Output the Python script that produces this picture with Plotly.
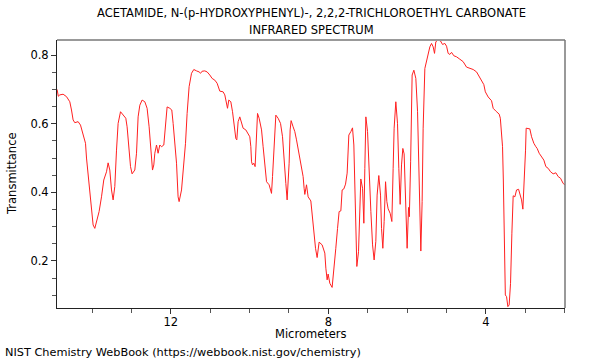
import plotly.graph_objects as go

micrometers = [
    14.888, 14.857, 14.819, 14.735, 14.649, 14.565, 14.522, 14.481, 14.438, 14.354,
    14.293, 14.227, 14.166, 14.141, 14.100, 14.057, 14.014, 13.973, 13.930, 13.872,
    13.821, 13.760, 13.702, 13.633, 13.592, 13.549, 13.506, 13.465, 13.422, 13.379,
    13.338, 13.277, 13.211, 13.143, 13.110, 13.059, 13.023, 12.983, 12.914, 12.871,
    12.830, 12.787, 12.729, 12.660, 12.602, 12.551, 12.516, 12.490, 12.465, 12.432,
    12.406, 12.363, 12.323, 12.279, 12.236, 12.178, 12.127, 12.094, 12.025, 11.975,
    11.941, 11.898, 11.855, 11.815, 11.789, 11.728, 11.688, 11.644, 11.627, 11.586,
    11.535, 11.474, 11.416, 11.347, 11.281, 11.246, 11.205, 11.137, 11.078, 11.010,
    10.951, 10.883, 10.824, 10.756, 10.672, 10.629, 10.586, 10.560, 10.527, 10.476,
    10.433, 10.392, 10.349, 10.324, 10.291, 10.248, 10.204, 10.164, 10.095, 10.037,
    9.994, 9.968, 9.950, 9.925, 9.892, 9.859, 9.823, 9.798, 9.757, 9.696,
    9.656, 9.613, 9.569, 9.503, 9.443, 9.417, 9.384, 9.370, 9.333, 9.275,
    9.214, 9.163, 9.105, 9.079, 9.046, 9.021, 8.995, 8.970, 8.945, 8.894,
    8.851, 8.808, 8.767, 8.742, 8.681, 8.640, 8.615, 8.597, 8.554, 8.513,
    8.444, 8.386, 8.325, 8.284, 8.234, 8.157, 8.089, 8.063, 8.030, 8.005,
    7.962, 7.904, 7.853, 7.810, 7.766, 7.726, 7.682, 7.649, 7.606, 7.563,
    7.522, 7.479, 7.428, 7.386, 7.352, 7.327, 7.302, 7.276, 7.233, 7.200,
    7.175, 7.131, 7.098, 7.073, 7.047, 7.004, 6.971, 6.920, 6.877, 6.837,
    6.794, 6.761, 6.718, 6.674, 6.649, 6.616, 6.583, 6.547, 6.514, 6.481,
    6.430, 6.387, 6.354, 6.329, 6.286, 6.243, 6.210, 6.176, 6.141, 6.108,
    6.075, 6.039, 5.999, 5.963, 5.943, 5.910, 5.872, 5.828, 5.778, 5.734,
    5.694, 5.651, 5.618, 5.592, 5.549, 5.506, 5.465, 5.422, 5.379, 5.338,
    5.303, 5.270, 5.211, 5.150, 5.100, 5.041, 4.998, 4.957, 4.914, 4.871,
    4.813, 4.744, 4.660, 4.577, 4.490, 4.406, 4.321, 4.236, 4.169, 4.109,
    4.051, 4.013, 3.941, 3.855, 3.814, 3.738, 3.662, 3.632, 3.601, 3.576,
    3.556, 3.535, 3.517, 3.505, 3.474, 3.441, 3.408, 3.373, 3.339, 3.306,
    3.263, 3.220, 3.169, 3.136, 3.093, 3.060, 3.027, 2.992, 2.976, 2.883,
    2.839, 2.781, 2.730, 2.697, 2.646, 2.585, 2.527, 2.476, 2.417, 2.357,
    2.291, 2.222, 2.164, 2.103, 2.037, 1.994,
]

transmittance = [
    0.700, 0.680, 0.684, 0.686, 0.679, 0.664, 0.640, 0.611, 0.603, 0.606,
    0.596, 0.572, 0.543, 0.500, 0.455, 0.400, 0.340, 0.305, 0.295, 0.320,
    0.344, 0.387, 0.436, 0.460, 0.486, 0.465, 0.407, 0.378, 0.417, 0.523,
    0.601, 0.635, 0.625, 0.616, 0.591, 0.523, 0.475, 0.454, 0.465, 0.514,
    0.620, 0.654, 0.669, 0.664, 0.645, 0.591, 0.533, 0.485, 0.465, 0.480,
    0.514, 0.538, 0.514, 0.538, 0.533, 0.538, 0.596, 0.649, 0.645, 0.640,
    0.601, 0.543, 0.485, 0.387, 0.373, 0.407, 0.465, 0.504, 0.543, 0.630,
    0.708, 0.747, 0.758, 0.754, 0.751, 0.747, 0.753, 0.754, 0.751, 0.742,
    0.732, 0.727, 0.718, 0.695, 0.693, 0.684, 0.654, 0.645, 0.669, 0.664,
    0.635, 0.601, 0.557, 0.553, 0.606, 0.620, 0.601, 0.587, 0.582, 0.572,
    0.562, 0.533, 0.489, 0.480, 0.485, 0.475, 0.553, 0.630, 0.616, 0.582,
    0.533, 0.485, 0.431, 0.422, 0.397, 0.446, 0.523, 0.560, 0.625, 0.616,
    0.601, 0.562, 0.485, 0.426, 0.378, 0.417, 0.485, 0.582, 0.609, 0.591,
    0.577, 0.553, 0.528, 0.514, 0.475, 0.446, 0.412, 0.394, 0.422, 0.387,
    0.375, 0.295, 0.237, 0.210, 0.255, 0.247, 0.223, 0.179, 0.145, 0.162,
    0.135, 0.123, 0.198, 0.237, 0.295, 0.344, 0.346, 0.407, 0.410, 0.424,
    0.456, 0.567, 0.577, 0.588, 0.538, 0.422, 0.286, 0.184, 0.227, 0.354,
    0.439, 0.412, 0.310, 0.470, 0.620, 0.577, 0.470, 0.344, 0.247, 0.203,
    0.257, 0.392, 0.449, 0.392, 0.295, 0.237, 0.315, 0.431, 0.373, 0.352,
    0.339, 0.315, 0.470, 0.587, 0.664, 0.600, 0.470, 0.365, 0.480, 0.528,
    0.512, 0.400, 0.237, 0.356, 0.329, 0.489, 0.742, 0.756, 0.732, 0.635,
    0.402, 0.229, 0.373, 0.587, 0.761, 0.785, 0.800, 0.824, 0.834, 0.824,
    0.805, 0.839, 0.844, 0.841, 0.831, 0.834, 0.826, 0.805, 0.802, 0.808,
    0.798, 0.795, 0.788, 0.781, 0.765, 0.761, 0.758, 0.751, 0.737, 0.727,
    0.714, 0.693, 0.678, 0.667, 0.645, 0.636, 0.628, 0.616, 0.580, 0.533,
    0.436, 0.300, 0.135, 0.101, 0.096, 0.067, 0.072, 0.135, 0.281, 0.390,
    0.387, 0.407, 0.409, 0.397, 0.378, 0.351, 0.426, 0.523, 0.587, 0.585,
    0.562, 0.543, 0.533, 0.528, 0.514, 0.502, 0.494, 0.475, 0.470, 0.460,
    0.454, 0.457, 0.446, 0.441, 0.426, 0.422,
]

x_ticks = [12, 8, 4]
y_ticks = [0.2, 0.4, 0.6, 0.8]

title_line1 = "ACETAMIDE, N-(p-HYDROXYPHENYL)-, 2,2,2-TRICHLOROETHYL CARBONATE"
title_line2 = "INFRARED SPECTRUM"
x_title = "Micrometers"
y_title = "Transmittance"
footer = "NIST Chemistry WebBook (https://webbook.nist.gov/chemistry)"

FONT = "DejaVu Sans, Verdana, sans-serif"
FS = 11.5

fig = go.Figure()
fig.add_trace(go.Scatter(
    x=micrometers, y=transmittance, mode="lines",
    line=dict(color="#ff2020", width=1), hoverinfo="skip", showlegend=False,
))

L, R, T, B = 57, 35, 40, 52
W, H = 600, 360
ph = H - T - B

def py(pix):
    return (H - B - pix) / ph

fig.update_layout(
    width=W, height=H,
    margin=dict(l=L, r=R, t=T, b=B, pad=0),
    paper_bgcolor="white", plot_bgcolor="white",
    font=dict(family=FONT, size=FS, color="black"),
    showlegend=False,
    xaxis=dict(
        range=[14.89, 1.99], tickmode="array", tickvals=x_ticks,
        ticktext=[str(v) for v in x_ticks],
        showgrid=False, zeroline=False, showline=True, linecolor="#222", linewidth=1,
        ticks="outside", ticklen=5, tickcolor="#333",
        minor=dict(dtick=1, tick0=0, ticks="outside", ticklen=4, tickcolor="#555"),
        tickfont=dict(size=FS, family=FONT),
        ticklabelstandoff=-2,
    ),
    yaxis=dict(
        range=[0.063, 0.844], tickmode="array", tickvals=y_ticks,
        ticktext=[f"{v:.1f}" for v in y_ticks],
        showgrid=False, zeroline=False, showline=True, linecolor="#222", linewidth=1,
        ticks="outside", ticklen=5, tickcolor="#333",
        minor=dict(dtick=0.05, tick0=0, ticks="outside", ticklen=4, tickcolor="#555"),
        tickfont=dict(size=FS, family=FONT),
    ),
)

# gray top and right frame
fig.add_shape(type="line", xref="paper", yref="paper", x0=0, x1=1, y0=1, y1=1,
              line=dict(color="#999", width=2))
fig.add_shape(type="line", xref="paper", yref="paper", x0=1, x1=1, y0=0, y1=1,
              line=dict(color="#777", width=1.5))

ann = []
ann.append(dict(text=title_line1, x=0.5, y=py(13), xref="paper", yref="paper",
                showarrow=False, xanchor="center", yanchor="middle", font=dict(size=FS)))
ann.append(dict(text=title_line2, x=0.5, y=py(30), xref="paper", yref="paper",
                showarrow=False, xanchor="center", yanchor="middle", font=dict(size=FS)))
ann.append(dict(text=x_title, x=0.5, y=py(334), xref="paper", yref="paper",
                showarrow=False, xanchor="center", yanchor="middle", font=dict(size=FS)))
ann.append(dict(text=y_title, x=(12 - L) / (W - L - R), y=py(174), xref="paper", yref="paper",
                showarrow=False, xanchor="center", yanchor="middle", textangle=-90,
                font=dict(size=FS)))
ann.append(dict(text=footer, x=(3 - L) / (W - L - R), y=py(352), xref="paper", yref="paper",
                showarrow=False, xanchor="left", yanchor="middle", font=dict(size=11.3)))
fig.update_layout(annotations=ann)

fig.write_html(
    "out.html",
    config={"displayModeBar": False},
    post_script="document.body.style.margin='0';document.body.style.padding='0';",
)
